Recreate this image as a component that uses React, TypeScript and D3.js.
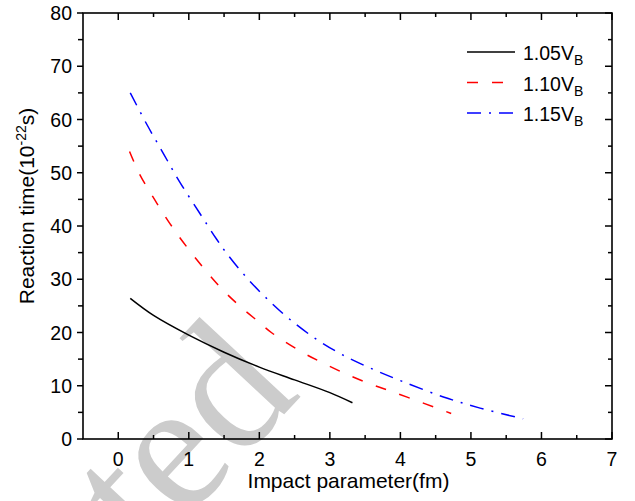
import React from "react";
import * as d3 from "d3";

const seriesNames = ["1.05V", "1.10V", "1.15V"];
const seriesColors = ["#000000", "#ff0000", "#0000ff"];
const seriesDash = ["none", "11,14", "14,8,2,8"];

const blackX = [0.17, 0.5, 1.0, 1.5, 2.0, 2.5, 3.0, 3.32];
const blackY = [26.4, 23.2, 19.5, 16.3, 13.5, 11.1, 8.7, 6.8];

const redX = [0.16, 0.3, 0.49, 0.73, 0.97, 1.41, 1.72, 2.0, 2.17, 2.62, 2.96, 3.3, 3.64, 3.88, 4.23, 4.56, 4.72];
const redY = [54.0, 49.8, 45.5, 40.5, 36.1, 29.0, 25.0, 21.9, 20.0, 16.2, 13.9, 11.8, 10.0, 8.9, 7.2, 5.6, 4.8];

const blueX = [0.17, 0.4, 0.64, 0.87, 1.16, 1.39, 1.53, 1.82, 2.15, 2.42, 2.79, 3.18, 3.61, 4.04, 4.61, 5.13, 5.74];
const blueY = [65.0, 59.2, 53.6, 48.3, 42.3, 37.6, 35.0, 30.3, 25.8, 22.6, 18.9, 15.8, 13.1, 10.75, 7.9, 5.8, 3.8];

const xTicks = [0, 1, 2, 3, 4, 5, 6, 7];
const xMinor = [0.5, 1.5, 2.5, 3.5, 4.5, 5.5, 6.5];
const yTicks = [0, 10, 20, 30, 40, 50, 60, 70, 80];
const yMinor = [5, 15, 25, 35, 45, 55, 65, 75];

const W = 635;
const H = 501;
const L = 83, R = 612, T = 13, B = 439;
const FONT = "'Liberation Sans', Arial, sans-serif";

export default function App() {
  const x = d3.scaleLinear().domain([-0.5, 7]).range([L, R]);
  const y = d3.scaleLinear().domain([0, 80]).range([B, T]);
  const series = [
    blackX.map((v, i) => [v, blackY[i]]),
    redX.map((v, i) => [v, redY[i]]),
    blueX.map((v, i) => [v, blueY[i]]),
  ];
  const line = d3
    .line<number[]>()
    .x((d) => x(d[0]))
    .y((d) => y(d[1]))
    .curve(d3.curveCatmullRom.alpha(0.5));

  const legendY = [52, 82.5, 113];

  return (
    <svg
      width={W}
      height={H}
      style={{ position: "absolute", left: 0, top: 0, background: "#fff" }}
    >
      <rect x={0} y={0} width={W} height={H} fill="#fff" />
      {/* watermark */}
      <text
        transform="translate(302,395) rotate(-47)"
        textAnchor="end"
        fontFamily="'Liberation Serif', 'Times New Roman', serif"
        fontSize={185}
        fill="#cccccc"
      >
        Accepted
      </text>

      {/* curves */}
      {series.map((s, i) => (
        <path
          key={i}
          d={line(s as any) || ""}
          fill="none"
          stroke={seriesColors[i]}
          strokeWidth={1.5}
          strokeDasharray={seriesDash[i]}
        />
      ))}

      {/* frame */}
      <rect x={L} y={T} width={R - L} height={B - T} fill="none" stroke="#000" strokeWidth={1.6} />

      {/* bottom ticks (inward) & top ticks (inward) */}
      {xTicks.map((t) => (
        <g key={"xt" + t}>
          <line x1={x(t)} x2={x(t)} y1={B} y2={B - 7} stroke="#000" strokeWidth={1.5} />
          <line x1={x(t)} x2={x(t)} y1={T} y2={T + 7} stroke="#000" strokeWidth={1.5} />
          <text x={x(t)} y={466} textAnchor="middle" fontFamily={FONT} fontSize={19.5} fill="#000">
            {t}
          </text>
        </g>
      ))}
      {xMinor.map((t) => (
        <g key={"xm" + t}>
          <line x1={x(t)} x2={x(t)} y1={B} y2={B - 4} stroke="#000" strokeWidth={1.5} />
          <line x1={x(t)} x2={x(t)} y1={T} y2={T + 4} stroke="#000" strokeWidth={1.5} />
        </g>
      ))}

      {/* left ticks (outward) & right ticks (inward) */}
      {yTicks.map((t) => (
        <g key={"yt" + t}>
          <line x1={L} x2={L - 6} y1={y(t)} y2={y(t)} stroke="#000" strokeWidth={1.5} />
          <line x1={R} x2={R - 7} y1={y(t)} y2={y(t)} stroke="#000" strokeWidth={1.5} />
          <text x={72} y={y(t) + 7} textAnchor="end" fontFamily={FONT} fontSize={19.5} fill="#000">
            {t}
          </text>
        </g>
      ))}
      {yMinor.map((t) => (
        <g key={"ym" + t}>
          <line x1={L} x2={L - 5} y1={y(t)} y2={y(t)} stroke="#000" strokeWidth={1.5} />
          <line x1={R} x2={R - 4} y1={y(t)} y2={y(t)} stroke="#000" strokeWidth={1.5} />
        </g>
      ))}

      {/* axis titles */}
      <text x={(L + R) / 2 + 1} y={488} textAnchor="middle" fontFamily={FONT} fontSize={21} fill="#000">
        Impact parameter(fm)
      </text>
      <text
        transform="translate(33.5,206) rotate(-90)"
        textAnchor="middle"
        fontFamily={FONT}
        fontSize={21}
        fill="#000"
      >
        Reaction time(10
        <tspan fontSize={14} dy={-8}>-22</tspan>
        <tspan dy={8}>s)</tspan>
      </text>

      {/* legend */}
      {seriesNames.map((n, i) => (
        <g key={"lg" + i}>
          <line
            x1={467}
            x2={515}
            y1={legendY[i]}
            y2={legendY[i]}
            stroke={seriesColors[i]}
            strokeWidth={1.5}
            strokeDasharray={seriesDash[i]}
          />
          <text x={523} y={legendY[i] + 8} fontFamily={FONT} fontSize={19.5} fill="#000">
            {n}
            <tspan fontSize={14} dy={5}>B</tspan>
          </text>
        </g>
      ))}
    </svg>
  );
}
